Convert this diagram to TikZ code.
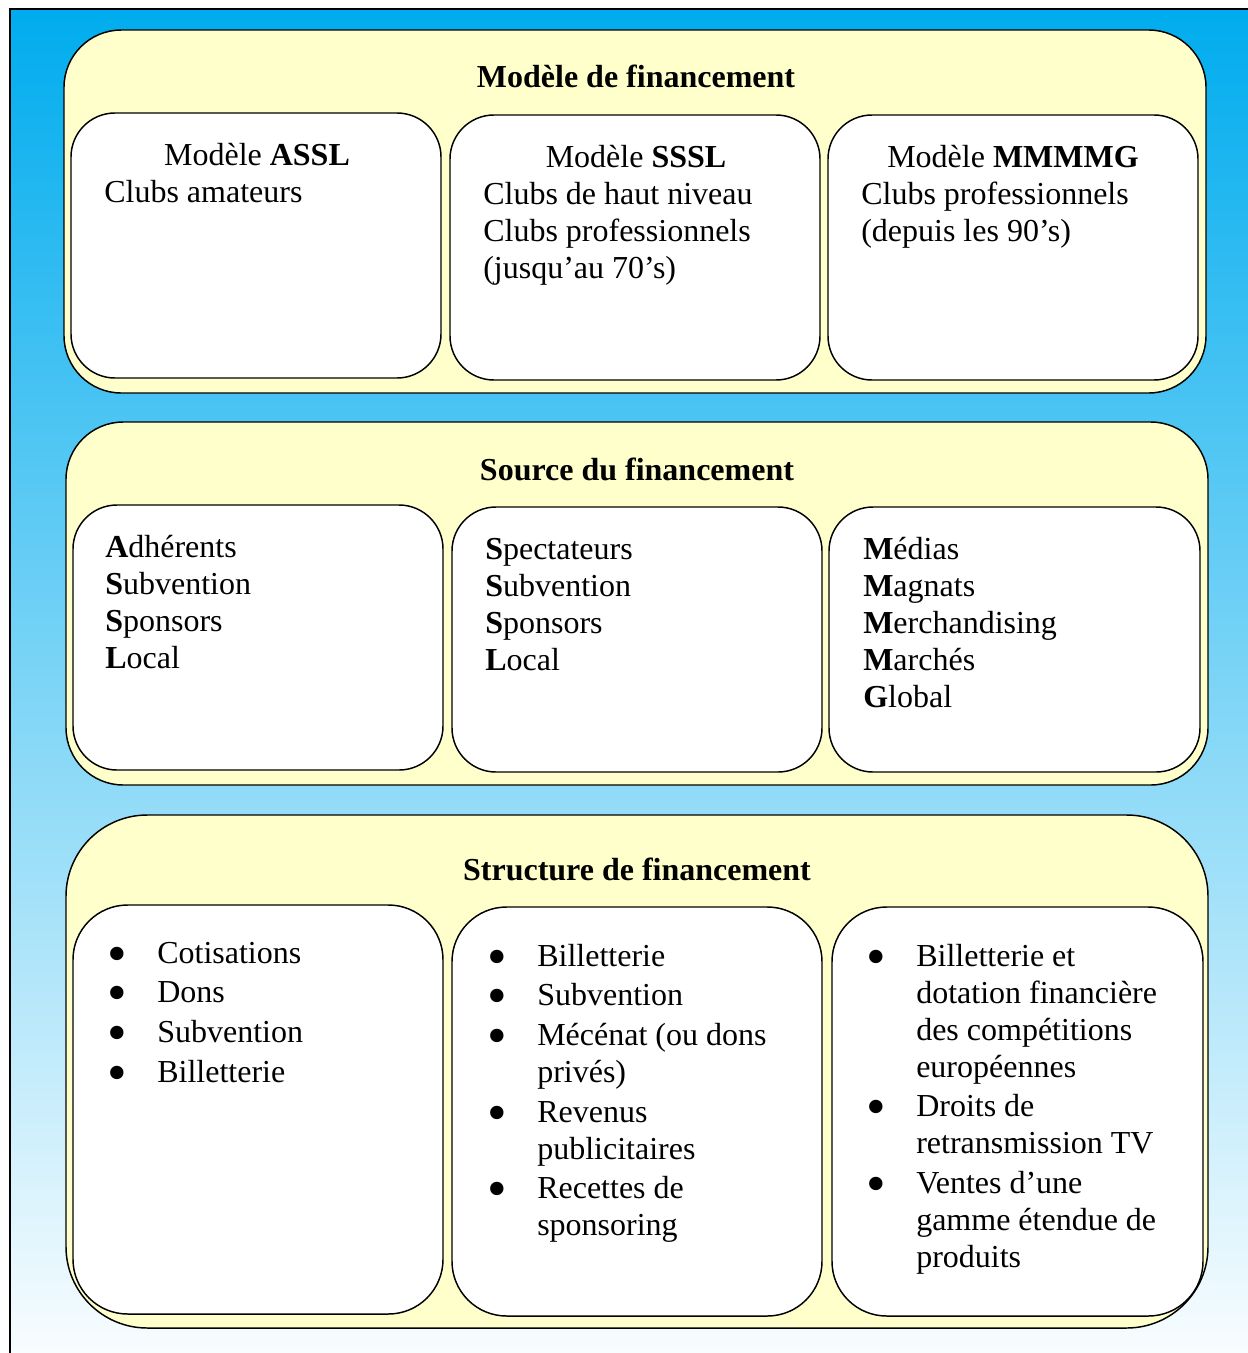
\documentclass[tikz,border=0pt]{standalone}
\usepackage{fontspec}
\usepackage{graphicx}
\setmainfont{Liberation Serif}
\definecolor{skytop}{RGB}{0,172,238}
\definecolor{skymid}{RGB}{165,208,245}
\definecolor{panelfill}{RGB}{255,255,204}
\newcommand{\bul}{\raisebox{-6.8pt}[0pt][0pt]{\scalebox{1.75}{\textbullet}}}
\tikzset{
        panel/.style = {draw, line width=1.1pt, fill=panelfill},
        card/.style = {draw, line width=1.1pt, fill=white},
        title/.style = {anchor=base, inner sep=0pt, font=\fontsize{24}{27.75}\selectfont\bfseries},
        head/.style = {anchor=base, inner sep=0pt},
        body/.style = {anchor=base west, inner sep=0pt},
    }
\begin{document}
\begin{tikzpicture}[x=0.75pt,y=0.75pt,yscale=-1,xscale=1,font=\fontsize{24}{27.75}\selectfont]
\useasboundingbox (0,0) rectangle (1247,1353);

%Frame with gradient
\draw [line width=1.2pt, top color=skytop, middle color=skymid, bottom color=white] (10,9) rectangle (1280,1390);

%Rounded Rect -- Modele de financement
\draw [panel, rounded corners=43pt] (64,30) rectangle (1206,393);
\draw [card, rounded corners=33pt] (71,113) rectangle (441,378);
\draw [card, rounded corners=33pt] (450,115) rectangle (820,380);
\draw [card, rounded corners=33pt] (828,115) rectangle (1198,380);

%Rounded Rect -- Source du financement
\draw [panel, rounded corners=43pt] (66,422) rectangle (1208,785);
\draw [card, rounded corners=33pt] (73,505) rectangle (443,770);
\draw [card, rounded corners=33pt] (452,507) rectangle (822,772);
\draw [card, rounded corners=33pt] (829,507) rectangle (1200,772);

%Rounded Rect -- Structure de financement
\draw [panel, rounded corners=61pt] (66,815) rectangle (1208,1328);
\draw [card, rounded corners=41pt] (73,905) rectangle (443,1314);
\draw [card, rounded corners=41pt] (452,907) rectangle (822,1316);
\draw [card, rounded corners=41pt] (832,907) rectangle (1203,1316);

% Text Node
\draw (636,87) node [title] (modtitle) {Modèle de financement};
% Text Node
\draw (257,165) node [head] (assl) {Modèle \textbf{ASSL}};
\draw (104,202) node [body] (asslbody) {Clubs amateurs};
% Text Node
\draw (636,167) node [head] (sssl) {Modèle \textbf{SSSL}};
\draw (483,204) node [body] (ssslbody) {\begin{tabular}[t]{@{}l@{}}Clubs de haut niveau\\Clubs professionnels\\(jusqu’au 70’s)\end{tabular}};
% Text Node
\draw (1013,167) node [head] (mmmmg) {Modèle \textbf{MMMMG}};
\draw (861,204) node [body] (mmmmgbody) {\begin{tabular}[t]{@{}l@{}}Clubs professionnels\\(depuis les 90’s)\end{tabular}};

% Text Node
\draw (637,480) node [title] (srctitle) {Source du financement};
% Text Node
\draw (105,557) node [body] (srcassl) {\begin{tabular}[t]{@{}l@{}}\textbf{A}dhérents\\\textbf{S}ubvention\\\textbf{S}ponsors\\\textbf{L}ocal\end{tabular}};
% Text Node
\draw (485,559) node [body] (srcsssl) {\begin{tabular}[t]{@{}l@{}}\textbf{S}pectateurs\\\textbf{S}ubvention\\\textbf{S}ponsors\\\textbf{L}ocal\end{tabular}};
% Text Node
\draw (863,559) node [body] (srcmmmmg) {\begin{tabular}[t]{@{}l@{}}\textbf{M}édias\\\textbf{M}agnats\\\textbf{M}erchandising\\\textbf{M}archés\\\textbf{G}lobal\end{tabular}};

% Text Node
\draw (637,880) node [title] (strtitle) {Structure de financement};
% Text Node
\draw (107,963) node [body] (strassl) {\begin{tabular}[t]{@{}p{37.5pt}@{}l@{}}
\bul & Cotisations\\[2pt]
\bul & Dons\\[2pt]
\bul & Subvention\\[2pt]
\bul & Billetterie
\end{tabular}};
% Text Node
\draw (487,966) node [body] (strsssl) {\begin{tabular}[t]{@{}p{37.5pt}@{}l@{}}
\bul & Billetterie\\[2pt]
\bul & Subvention\\[2pt]
\bul & Mécénat (ou dons\\
 & privés)\\[2pt]
\bul & Revenus\\
 & publicitaires\\[2pt]
\bul & Recettes de\\
 & sponsoring
\end{tabular}};
% Text Node
\draw (866,966) node [body] (strmmmmg) {\begin{tabular}[t]{@{}p{37.5pt}@{}l@{}}
\bul & Billetterie et\\
 & dotation financière\\
 & des compétitions\\
 & européennes\\[2pt]
\bul & Droits de\\
 & retransmission TV\\[2pt]
\bul & Ventes d’une\\
 & gamme étendue de\\
 & produits
\end{tabular}};

\end{tikzpicture}
\end{document}
